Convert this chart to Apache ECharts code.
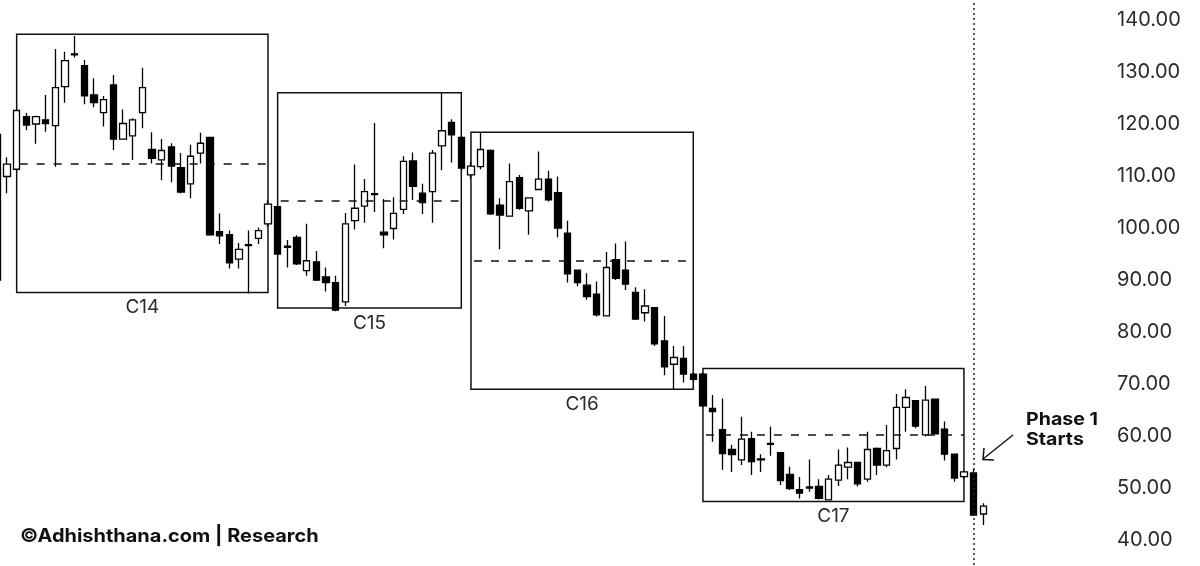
<!DOCTYPE html>
<html>
<head>
<meta charset="utf-8">
<script src="https://cdn.jsdelivr.net/npm/echarts@6/dist/echarts.min.js"></script>
<style>
html,body{margin:0;padding:0;background:#fff;}
#chart{width:1200px;height:566px;}
</style>
</head>
<body>
<div id="chart"></div>
<script>
// ---- Data ----
const openV  = [118,109.9,111.3,121.4,120,120.8,119.7,127.2,133.5,131.2,125.6,122.2,127.5,117.1,117.7,122.2,115.1,113.1,115.6,111.6,108.5,114.4,117.4,99.3,98.7,94,96.8,98,100.8,104.1,96.5,98.2,91.8,93.5,90.6,89.5,85.8,101.4,104.2,106.6,99.2,99.9,103.6,112.9,106.7,107,115.8,120.3,117.4,110.2,111.8,114.9,104.4,102.3,109.7,103.3,107.4,109.4,106.8,99,91.9,89,87.3,83.1,93.9,91.9,87.6,83.7,84.7,78.3,73.8,74.9,71.9,71.9,65.3,61.2,57.4,55.4,59.5,55.6,58.6,56.8,52.6,49.7,50.2,50.3,47.7,51.5,54,54.9,51.7,57.6,54.4,57.6,65.5,66.8,60.2,67.1,61.3,56.5,52.2,52.9,45];
const closeV = [90,112.3,122.6,119.8,121.4,120.1,127,132.2,133.3,125.4,124.1,124.7,117.1,120.1,120.8,127,113.4,114.9,111.9,106.9,113.8,116.3,98.7,98.5,93.3,95.9,96.6,99.5,104.6,95,96.3,93.1,93.7,90,89.5,84.2,100.8,103.8,107,106.4,98.7,102.8,112.8,108,104.9,114.4,118.7,117.9,111.5,111.9,115.1,102.7,102.5,108.9,103.8,105.8,109.4,105.4,100,91.2,89.5,86.8,83.3,92.4,90.3,89.2,82.5,85,77.7,73.3,75.1,71.9,70.9,65.8,64.7,56.6,56.4,59.4,55.1,55.4,58.4,51.4,49.9,49,50,48,51.7,54.4,54.9,50.8,57.4,54.4,57.2,65.5,67.4,61.9,66.9,60.4,56.5,51.9,53.1,44.8,46.5];
const lowV   = [88,106.7,111,118.8,116.2,118.5,111.8,124.1,132.8,123.8,123.2,119.5,115,117.1,113.1,119.2,112.4,109.2,108.8,106.7,105.7,112.4,98.5,96.9,92.2,92.2,87.4,96.9,100.3,94.8,92.4,92.9,90.8,89.8,87.8,84,85,99.7,101,103.1,96.1,97.8,102.7,105.4,102.7,101,111.1,112.6,111,109.5,111.3,102.5,95.9,102.2,103.5,98.7,107.3,105.1,98.2,89.5,88.8,86.2,83,83,90,88.1,82.3,82,77.3,71.7,69,70.3,70.5,65.6,58.9,53.5,53.1,54.4,52.5,53.1,56.2,50.6,49.6,48,49.3,47.8,47.6,50.4,51.7,50.3,51.2,52.5,54,55.5,60.8,61.5,59.9,60.3,55.3,51.2,51.8,44.6,42.9];
const highV  = [119,113.6,122.8,122.1,121.6,125.6,134.4,133.9,136.9,132.3,128.8,125.4,129.4,122.8,121.1,130.8,118.4,117.1,116.3,114.4,116,118.3,117.5,102.8,99.5,97.1,99.5,100.1,105.3,104.3,97.7,98.6,100.8,95.6,92.4,90.8,102.9,112.2,109.4,120.2,105.6,105.9,113.8,114.5,108.5,115,125.9,120.9,117.6,112.8,118.3,115.1,105.7,112.4,110.2,105.9,114.7,111,109.9,101.4,92,91.3,89.7,95.4,97,97.4,88.6,88.2,84.8,83.1,77.3,77.3,72.2,72.2,67.9,67.2,58.3,63.7,60.8,56.5,61.8,56.9,54.1,52.1,55.5,51.7,52.5,57.4,57.8,55,60.8,57.8,62.1,68.1,69,66.9,69.6,67.2,62.8,56.6,53.3,53.6,47.05];
const categories = openV.map((_, i) => String(i));
const yTicks = [40, 50, 60, 70, 80, 90, 100, 110, 120, 130, 140];

// Cycle boxes: label, first candle, last candle, top, bottom
const boxNames  = ['C14', 'C15', 'C16', 'C17'];
const boxStart  = [2, 29, 49, 73];
const boxEnd    = [28, 48, 72, 100];
const boxTop    = [137.25, 126.0, 118.4, 73.0];
const boxBottom = [87.6, 84.6, 69.0, 47.4];
const phaseIndex = 101;

// ---- Build ----
const candles = openV.map((o, i) => [o, closeV[i], lowV[i], highV[i]]);
const areaData = boxNames.map((n, k) => [
  { name: n, xAxis: String(boxStart[k]), yAxis: boxTop[k] },
  { xAxis: String(boxEnd[k]), yAxis: boxBottom[k] }
]);
const midLines = boxNames.map((n, k) => {
  const mid = (boxTop[k] + boxBottom[k]) / 2;
  return [
    { coord: [String(boxStart[k]), mid], lineStyle: { type: [8, 9], dashOffset: -3, width: 1.5, color: '#111' } },
    { coord: [String(boxEnd[k]), mid] }
  ];
});
midLines.push([
  { coord: [String(phaseIndex), 150], lineStyle: { type: [2, 3], width: 1.5, color: '#222' } },
  { coord: [String(phaseIndex), 30] }
]);

const chart = echarts.init(document.getElementById('chart'), null, { renderer: 'canvas' });
chart.setOption({
  animation: false,
  backgroundColor: '#ffffff',
  grid: { left: -7.5, right: 211.9, top: -32, bottom: -26, outerBoundsMode: 'none', containLabel: false },
  xAxis: {
    type: 'category', data: categories, boundaryGap: true,
    axisLine: { show: false }, axisTick: { show: false }, axisLabel: { show: false }, splitLine: { show: false }
  },
  yAxis: {
    type: 'value', position: 'right', min: 30, max: 150, interval: 10,
    axisLine: { show: false }, axisTick: { show: false }, splitLine: { show: false },
    axisLabel: {
      margin: 129, fontFamily: 'Inter', fontSize: 20, color: '#2a2a2a', align: 'left',
      formatter: v => (yTicks.indexOf(v) >= 0 ? v.toFixed(2) : '')
    }
  },
  series: [{
    type: 'candlestick',
    data: candles,
    barWidth: 7,
    clip: false,
    itemStyle: { color: '#ffffff', color0: '#000000', borderColor: '#000000', borderColor0: '#000000', borderWidth: 1.3 },
    markArea: {
      silent: true,
      itemStyle: { color: 'rgba(0,0,0,0)', borderColor: '#111', borderWidth: 1.5 },
      label: { show: true, position: 'bottom', distance: 5, fontFamily: 'Inter', fontSize: 19, color: '#2a2a2a' },
      data: areaData
    },
    markLine: {
      silent: true, symbol: ['none', 'none'],
      label: { show: false },
      data: midLines
    }
  }],
  graphic: [
    { type: 'text', x: 20, y: 527, scaleX: 1.08, style: { text: '©Adhishthana.com | Research', font: 'bold 18.5px Inter', fill: '#111' } },
    { type: 'text', x: 1026, y: 410, scaleX: 1.12, style: { text: 'Phase 1\nStarts', font: 'bold 17.5px Inter', lineHeight: 20, fill: '#111' } },
    { type: 'polyline', shape: { points: [[1013, 435], [983, 459]] }, style: { stroke: '#111', lineWidth: 1.5, fill: null } },
    { type: 'polyline', shape: { points: [[984, 448], [983, 459.5], [994, 460]] }, style: { stroke: '#111', lineWidth: 1.5, fill: null } }
  ]
});
</script>
</body>
</html>
